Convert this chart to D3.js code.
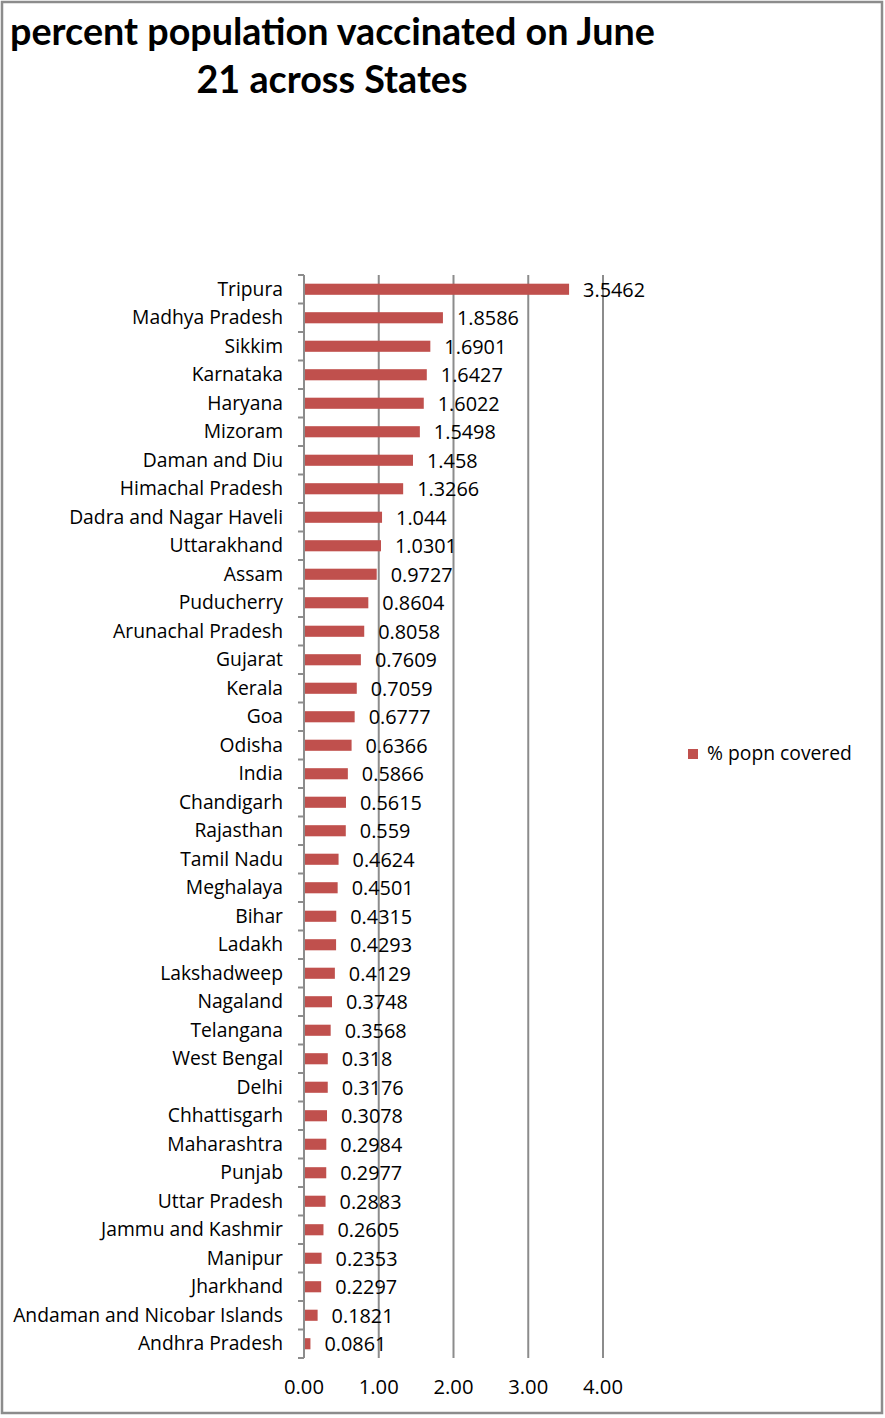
<!DOCTYPE html>
<html><head><meta charset="utf-8">
<script src="https://cdn.jsdelivr.net/npm/d3@7"></script>
<style>body{margin:0;background:#fff;}text{font-family:"Open Sans",Lato,sans-serif;}</style>
</head><body><svg id="c" width="885" height="1418"></svg>
<script>
const categories = ["Tripura","Madhya Pradesh","Sikkim","Karnataka","Haryana","Mizoram","Daman and Diu","Himachal Pradesh","Dadra and Nagar Haveli","Uttarakhand","Assam","Puducherry","Arunachal Pradesh","Gujarat","Kerala","Goa","Odisha","India","Chandigarh","Rajasthan","Tamil Nadu","Meghalaya","Bihar","Ladakh","Lakshadweep","Nagaland","Telangana","West Bengal","Delhi","Chhattisgarh","Maharashtra","Punjab","Uttar Pradesh","Jammu and Kashmir","Manipur","Jharkhand","Andaman and Nicobar Islands","Andhra Pradesh"];
const values = [3.5462,1.8586,1.6901,1.6427,1.6022,1.5498,1.458,1.3266,1.044,1.0301,0.9727,0.8604,0.8058,0.7609,0.7059,0.6777,0.6366,0.5866,0.5615,0.559,0.4624,0.4501,0.4315,0.4293,0.4129,0.3748,0.3568,0.318,0.3176,0.3078,0.2984,0.2977,0.2883,0.2605,0.2353,0.2297,0.1821,0.0861];
const valueLabels = ["3.5462","1.8586","1.6901","1.6427","1.6022","1.5498","1.458","1.3266","1.044","1.0301","0.9727","0.8604","0.8058","0.7609","0.7059","0.6777","0.6366","0.5866","0.5615","0.559","0.4624","0.4501","0.4315","0.4293","0.4129","0.3748","0.3568","0.318","0.3176","0.3078","0.2984","0.2977","0.2883","0.2605","0.2353","0.2297","0.1821","0.0861"];
const xTicks = [0,1,2,3,4];
const titleLines = ["percent population vaccinated on June","21 across States"];
const seriesName = "% popn covered";

const svg = d3.select("#c");
const barColor = "#C0504D", gridColor = "#8c8c8c";
const x = d3.scaleLinear().domain([0,4]).range([304,603]);
const y = d3.scaleBand().domain(categories).range([275,1358]).paddingInner(0.61).paddingOuter(0.305);

function fitSize(str, weight, target, family){
  const t = svg.append("text").attr("font-size",20).attr("font-weight",weight).style("font-family",family||null).text(str);
  const w = t.node().getComputedTextLength(); t.remove();
  return 20*target/w;
}
const titleFamily = "Lato, 'Open Sans', sans-serif";
const catFs = fitSize("Andaman and Nicobar Islands",400,270);
const valFs = fitSize("3.5462",400,62);
const tickFs = fitSize("0.00",400,40);
const legFs = fitSize(seriesName,400,145);
const titleFs = fitSize(titleLines[0],700,645,titleFamily);

// border
svg.append("rect").attr("x",2).attr("y",2).attr("width",880).attr("height",1411)
  .attr("fill","none").attr("stroke","#8c8c8c").attr("stroke-width",2.5);

// title
svg.append("text").attr("x",10).attr("y",45).attr("font-weight",700).style("font-family",titleFamily).attr("font-size",titleFs).attr("fill","#000").text(titleLines[0]);
svg.append("text").attr("x",332).attr("y",93).attr("text-anchor","middle").attr("font-weight",700).style("font-family",titleFamily).attr("font-size",titleFs).attr("fill","#000").text(titleLines[1]);

// gridlines
svg.append("g").selectAll("line").data(xTicks.slice(1)).join("line")
  .attr("x1",d=>x(d)).attr("x2",d=>x(d)).attr("y1",275).attr("y2",1358)
  .attr("stroke",gridColor).attr("stroke-width",2);

// x labels
svg.append("g").selectAll("text").data(xTicks).join("text")
  .attr("x",d=>x(d)).attr("y",1394).attr("text-anchor","middle").attr("font-size",tickFs).attr("fill","#000")
  .text(d=>d3.format(".2f")(d));

// y axis
const yAxis = svg.append("g");
yAxis.append("line").attr("x1",304).attr("x2",304).attr("y1",275).attr("y2",1358).attr("stroke",gridColor).attr("stroke-width",2);
const b0 = y(categories[0]) - y.step()*y.paddingOuter();
yAxis.selectAll("line.t").data(d3.range(categories.length+1)).join("line").attr("class","t")
  .attr("x1",298).attr("x2",304).attr("y1",i=>b0+i*y.step()).attr("y2",i=>b0+i*y.step())
  .attr("stroke",gridColor).attr("stroke-width",2);

// bars
svg.append("g").selectAll("rect").data(categories).join("rect")
  .attr("x",x(0)+1).attr("y",d=>y(d)).attr("height",y.bandwidth())
  .attr("width",(d,i)=>Math.max(0,x(values[i])-x(0)-1)).attr("fill",barColor);

// category labels
svg.append("g").selectAll("text").data(categories).join("text")
  .attr("x",283).attr("y",d=>y(d)+y.bandwidth()/2+6.5).attr("text-anchor","end").attr("font-size",catFs).attr("fill","#000")
  .text(d=>d);

// value labels
svg.append("g").selectAll("text").data(categories).join("text")
  .attr("x",(d,i)=>x(values[i])+14).attr("y",d=>y(d)+y.bandwidth()/2+7.5).attr("font-size",valFs).attr("fill","#000")
  .text((d,i)=>valueLabels[i]);

// legend
svg.append("rect").attr("x",688).attr("y",749).attr("width",10).attr("height",10).attr("fill",barColor);
svg.append("text").attr("x",707).attr("y",760).attr("font-size",legFs).attr("fill","#000").text(seriesName);
</script></body></html>
